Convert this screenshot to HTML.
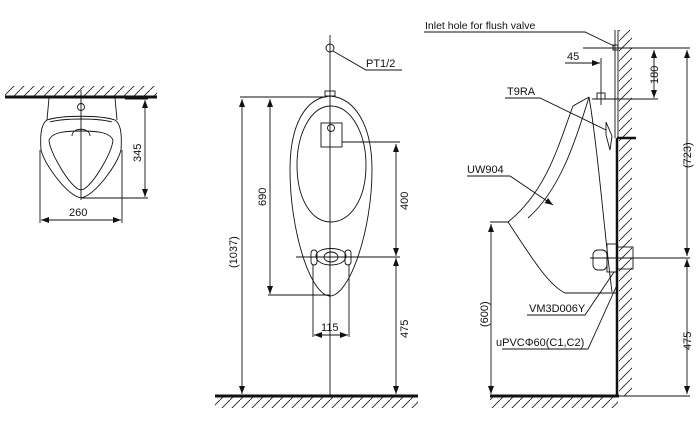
<!DOCTYPE html>
<html><head><meta charset="utf-8"><style>
html,body{margin:0;padding:0;background:#fff;width:700px;height:423px;overflow:hidden}
text{font-family:"Liberation Sans",sans-serif;font-size:11px;fill:#111}
</style></head><body>
<svg width="700" height="423" viewBox="0 0 700 423" xmlns="http://www.w3.org/2000/svg">
<defs>
<pattern id="h" width="10" height="10" patternUnits="userSpaceOnUse">
<line x1="0" y1="10" x2="10" y2="0" stroke="#222" stroke-width="0.9"/>
</pattern>
<marker id="a" markerWidth="8" markerHeight="6" refX="8" refY="3" orient="auto-start-reverse" markerUnits="userSpaceOnUse">
<path d="M0,0 L8,3 L0,6 Z" fill="#111"/>
</marker>
</defs>
<g fill="none" stroke="#111" stroke-width="0.9">
<!-- LEFT VIEW -->
<rect x="5" y="86" width="152" height="10" fill="url(#h)" stroke="none"/>
<line x1="5" y1="97" x2="157" y2="97" stroke-width="3"/>
<path d="M49,98 L47,120 M115,98 L117,120"/>
<path d="M47,120 C41,124 40,135 41,150 C45,165 65,192 78,197 C80,198 82,198 84,197 C97,192 117,165 121,150 C122,135 121,124 115,120 C100,115 62,115 47,120 Z"/>
<path d="M49,140 C52,133 62,131 81,131 C100,131 110,133 113,140 C112,152 95,182 84,189 C82,190 80,190 78,189 C67,182 50,152 49,140 Z"/>
<path d="M50,122 C65,118 97,118 112,122"/>
<path d="M72,136 C72,127 90,127 90,136"/>
<circle cx="81" cy="107" r="3.5"/>
<line x1="81" y1="90" x2="81" y2="200"/>
<line x1="82" y1="198" x2="148" y2="198"/>
<line x1="125" y1="99" x2="148" y2="99"/>
<line x1="145" y1="100" x2="145" y2="197" marker-start="url(#a)" marker-end="url(#a)"/>
<line x1="40" y1="150" x2="40" y2="223"/><line x1="122" y1="150" x2="122" y2="223"/>
<line x1="41" y1="220" x2="121" y2="220" marker-start="url(#a)" marker-end="url(#a)"/>
<!-- MIDDLE VIEW -->
<line x1="330" y1="35" x2="330" y2="397"/>
<circle cx="330" cy="48" r="4"/>
<path d="M333,51 L366,70 L402,70"/>
<rect x="325" y="91" width="10" height="5"/>
<path d="M330,96 C305,98 290,125 290,170 C290,230 310,295 330,296 C350,295 372,230 372,170 C372,125 355,98 330,96 Z"/>
<path d="M331,106 C310,106 297,135 297,165 C297,200 312,222 331,222 C350,222 366,200 366,165 C366,135 352,106 331,106 Z"/>
<rect x="321" y="123" width="21" height="24"/>
<circle cx="331" cy="128" r="3.5"/>
<path d="M316,256 C316,246 346,246 346,256 C346,268 316,268 316,256 Z"/>
<ellipse cx="331" cy="257" rx="7" ry="5"/>
<rect x="311" y="250" width="6" height="15" rx="3"/><rect x="345" y="250" width="6" height="15" rx="3"/>
<line x1="296" y1="257" x2="400" y2="257"/>
<line x1="240" y1="97" x2="326" y2="97"/>
<line x1="242" y1="99" x2="242" y2="394" marker-start="url(#a)" marker-end="url(#a)"/>
<line x1="270" y1="99" x2="270" y2="294" marker-start="url(#a)" marker-end="url(#a)"/>
<line x1="268" y1="295" x2="330" y2="295"/>
<line x1="342" y1="142" x2="400" y2="142"/>
<line x1="396" y1="144" x2="396" y2="256" marker-start="url(#a)" marker-end="url(#a)"/>
<line x1="396" y1="258" x2="396" y2="394" marker-start="url(#a)" marker-end="url(#a)"/>
<line x1="313" y1="265" x2="313" y2="337"/><line x1="349" y1="265" x2="349" y2="337"/>
<line x1="314" y1="335" x2="348" y2="335" marker-start="url(#a)" marker-end="url(#a)"/>
<rect x="215" y="397" width="203" height="11" fill="url(#h)" stroke="none"/>
<line x1="215" y1="396" x2="418" y2="396" stroke-width="3"/>
<!-- RIGHT VIEW -->
<rect x="619" y="30" width="13" height="366" fill="url(#h)" stroke="none"/>
<line x1="615" y1="30" x2="615" y2="138"/>
<line x1="618" y1="30" x2="618" y2="138"/>
<line x1="617" y1="138" x2="617" y2="396" stroke-width="2.5"/>
<line x1="617" y1="138" x2="636" y2="138" stroke-width="2.5"/>
<rect x="490" y="397" width="128" height="11" fill="url(#h)" stroke="none"/>
<line x1="490" y1="396" x2="619" y2="396" stroke-width="3"/>
<rect x="613" y="45" width="5" height="5"/>
<path d="M424,32 L585,32 L614,46"/>
<line x1="583" y1="48" x2="690" y2="48"/>
<line x1="565" y1="63" x2="600" y2="63" marker-end="url(#a)"/>
<line x1="601" y1="58" x2="601" y2="105"/>
<line x1="654" y1="50" x2="654" y2="98" marker-start="url(#a)" marker-end="url(#a)"/>
<line x1="592" y1="99" x2="658" y2="99"/>
<line x1="687" y1="50" x2="687" y2="256" marker-start="url(#a)" marker-end="url(#a)"/>
<line x1="687" y1="259" x2="687" y2="394" marker-start="url(#a)" marker-end="url(#a)"/>
<line x1="618" y1="396" x2="690" y2="396"/>
<line x1="590" y1="258" x2="690" y2="258"/>
<rect x="597" y="93" width="8" height="6"/>
<path d="M589,97 L573,106 C560,140 548,190 508,222 C530,255 548,285 565,293 L617,293"/>
<path d="M589,97 C576,140 560,190 528,218"/>
<path d="M589,97 C598,150 604,230 612,292"/>
<path d="M606,122 L612,136 L610,150 L606,135 Z"/>
<path d="M505,98 L540,98 L606,130"/>
<path d="M467,176 L510,176 L553,205" marker-end="url(#a)"/>
<line x1="490" y1="222" x2="508" y2="222"/>
<line x1="491" y1="224" x2="491" y2="394" marker-start="url(#a)" marker-end="url(#a)"/>
<rect x="593" y="250" width="14" height="20" rx="5"/>
<rect x="607" y="244" width="10" height="28"/>
<rect x="617" y="247" width="16" height="22"/>
<path d="M527,315 L585,315 L614,272"/>
<path d="M502,349 L588,349 L617,285"/>
</g>
<g>
<text x="69" y="216">260</text>
<text transform="translate(141,162) rotate(-90)">345</text>
<text x="366" y="67">PT1/2</text>
<text transform="translate(237,268) rotate(-90)">(1037)</text>
<text transform="translate(266,206) rotate(-90)">690</text>
<text transform="translate(408,210) rotate(-90)">400</text>
<text transform="translate(408,338) rotate(-90)">475</text>
<text x="321" y="331">115</text>
<text x="425" y="29" style="font-size:10.5px">Inlet hole for flush valve</text>
<text x="567" y="60">45</text>
<text transform="translate(658,84) rotate(-90)">180</text>
<text x="507" y="95">T9RA</text>
<text transform="translate(691,168) rotate(-90)">(723)</text>
<text x="467" y="173">UW904</text>
<text transform="translate(488,327) rotate(-90)">(600)</text>
<text x="529" y="312">VM3D006Y</text>
<text x="496" y="346">uPVCΦ60(C1,C2)</text>
<text transform="translate(691,350) rotate(-90)">475</text>
</g>
</svg>
</body></html>
